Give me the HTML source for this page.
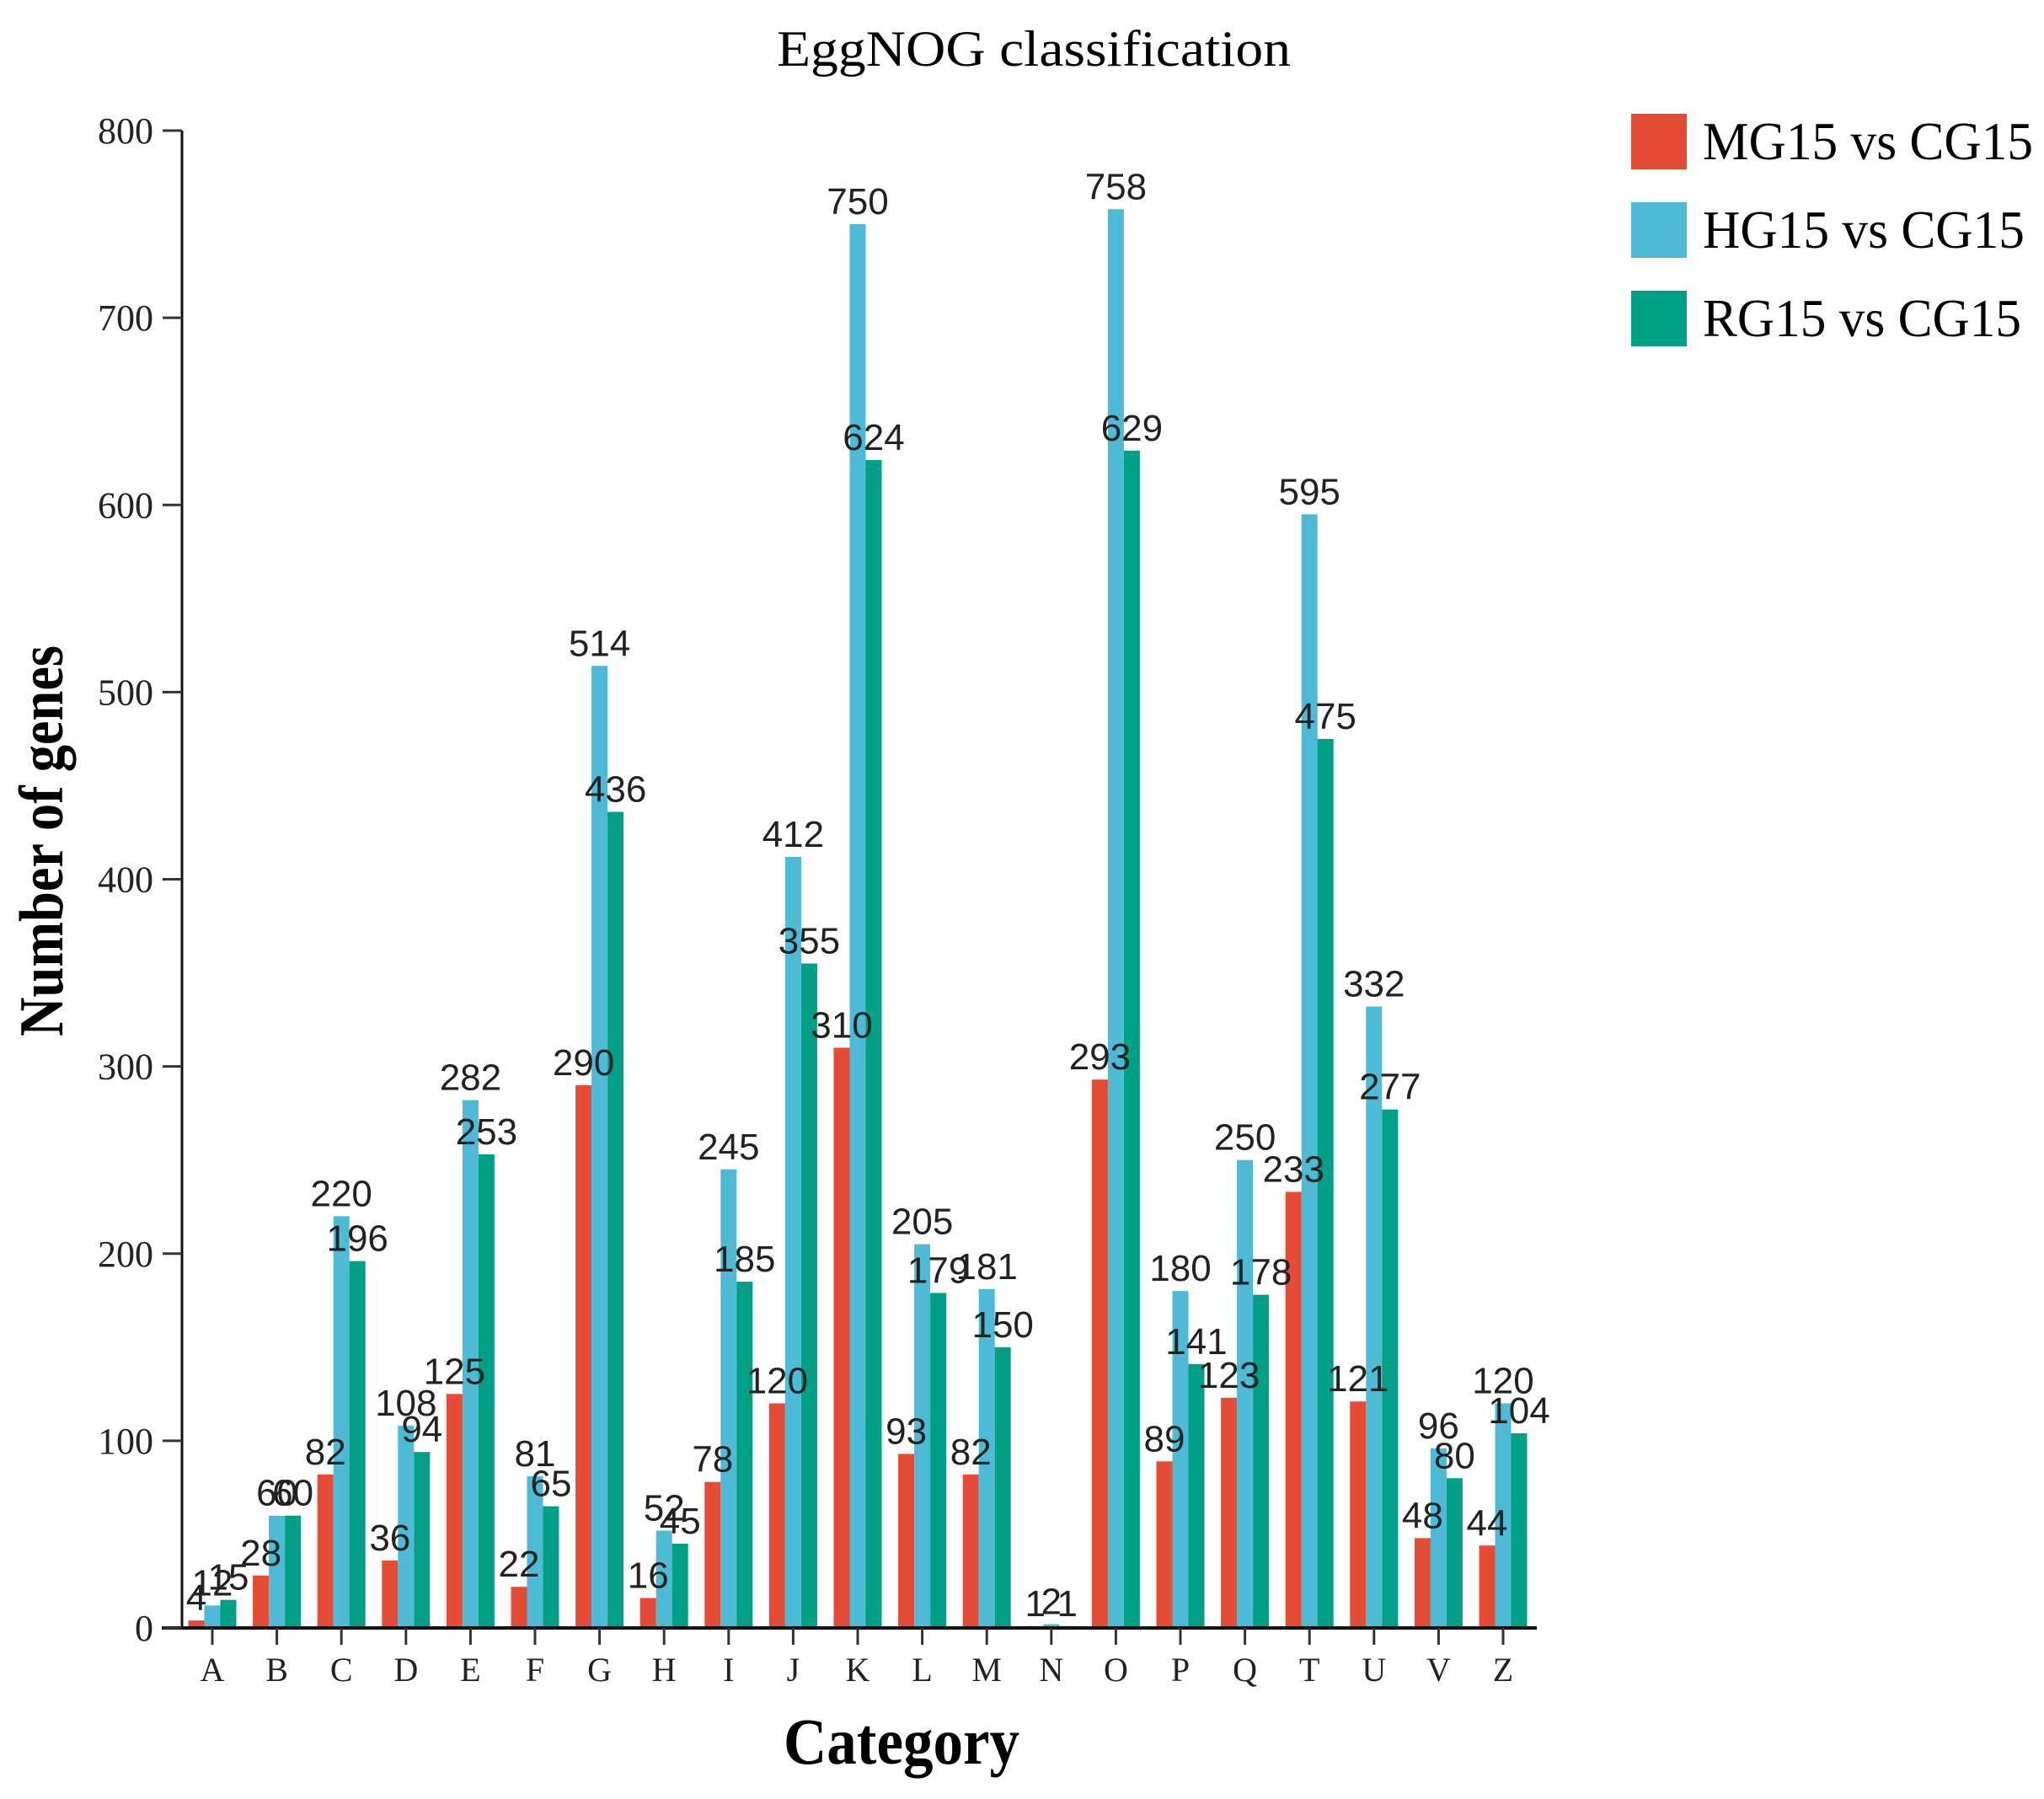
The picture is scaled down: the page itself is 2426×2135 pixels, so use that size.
<!DOCTYPE html>
<html><head><meta charset="utf-8"><style>html,body{margin:0;padding:0;background:#fff}svg{display:block}</style></head>
<body>
<svg id="chart" width="2426" height="2135" viewBox="0 0 2426 2135" xmlns="http://www.w3.org/2000/svg">
<text x="1227" y="78" text-anchor="middle" font-family="Liberation Serif, serif" font-size="60" textLength="610" lengthAdjust="spacingAndGlyphs">EggNOG classification</text>
<text transform="translate(74,998) rotate(-90)" text-anchor="middle" font-family="Liberation Serif, serif" font-weight="bold" font-size="74" textLength="464" lengthAdjust="spacingAndGlyphs">Number of genes</text>
<text x="1070" y="2093" text-anchor="middle" font-family="Liberation Serif, serif" font-weight="bold" font-size="78" textLength="280" lengthAdjust="spacingAndGlyphs">Category</text>
<g id="bars"></g><g id="labels"></g><g id="axes"></g>
<g>
<rect x="1936" y="135" width="66" height="66" fill="#E64B35"/>
<text x="2021" y="189" font-family="Liberation Serif, serif" font-size="64" textLength="392" lengthAdjust="spacingAndGlyphs">MG15 vs CG15</text>
<rect x="1936" y="240" width="66" height="66" fill="#4DBBD5"/>
<text x="2021" y="294" font-family="Liberation Serif, serif" font-size="64" textLength="382" lengthAdjust="spacingAndGlyphs">HG15 vs CG15</text>
<rect x="1936" y="345" width="66" height="66" fill="#00A087"/>
<text x="2021" y="399" font-family="Liberation Serif, serif" font-size="64" textLength="378" lengthAdjust="spacingAndGlyphs">RG15 vs CG15</text>
</g>
</svg>
<script>
const categories = ["A","B","C","D","E","F","G","H","I","J","K","L","M","N","O","P","Q","T","U","V","Z"];
const mgValues = [4,28,82,36,125,22,290,16,78,120,310,93,82,1,293,89,123,233,121,48,44];
const hgValues = [12,60,220,108,282,81,514,52,245,412,750,205,181,2,758,180,250,595,332,96,120];
const rgValues = [15,60,196,94,253,65,436,45,185,355,624,179,150,1,629,141,178,475,277,80,104];
const yTicks = [0,100,200,300,400,500,600,700,800];
const seriesNames = ["mg15","hg15","rg15"];
const seriesColors = ["#E64B35","#4DBBD5","#00A087"];

const NS = "http://www.w3.org/2000/svg";
const y0 = 1932, yTop = 155, yMax = 800;
const xFirst = 252, step = 76.6, barW = 19;
function yScale(v){ return y0 - v/yMax*(y0-yTop); }
function xScale(i){ return xFirst + i*step; }
function mk(tag, attrs, parent){ const e=document.createElementNS(NS,tag); for(const k in attrs) e.setAttribute(k,attrs[k]); parent.appendChild(e); return e; }

const bars = document.getElementById("bars");
const labels = document.getElementById("labels");
const axes = document.getElementById("axes");
const series = [mgValues, hgValues, rgValues];
series.forEach((vals, s) => {
  vals.forEach((v, i) => {
    const cx = xScale(i) + (s-1)*barW;
    const r = mk("rect", {x: cx-barW/2, y: yScale(v), width: barW, height: y0-yScale(v), fill: seriesColors[s]}, bars);
    
    
    const t = mk("text", {x: cx, y: yScale(v)-12, "text-anchor":"middle", "font-family":"Liberation Sans, sans-serif", "font-size":"44", fill:"#222"}, labels);
    t.textContent = v;
    
    
  });
});
const ya = mk("line", {x1:216, y1:yTop, x2:216, y2:y0, stroke:"#111", "stroke-width":3}, axes);


const xa = mk("line", {x1:192, y1:y0, x2:1824, y2:y0, stroke:"#111", "stroke-width":4}, axes);


yTicks.forEach(v => {
  const y = yScale(v);
  const tk = mk("line", {x1:193, y1:y, x2:216, y2:y, stroke:"#333", "stroke-width":3}, axes);
  
  
  const t = mk("text", {x:182, y:y+15, "text-anchor":"end", "font-family":"Liberation Serif, serif", "font-size":"44", fill:"#222"}, axes);
  t.textContent = v;
  
  
});
categories.forEach((c, i) => {
  const x = xScale(i);
  const tk = mk("line", {x1:x, y1:y0, x2:x, y2:y0+20, stroke:"#333", "stroke-width":3}, axes);
  
  
  const t = mk("text", {x:x, y:1995, "text-anchor":"middle", "font-family":"Liberation Serif, serif", "font-size":"40", fill:"#222"}, axes);
  t.textContent = c;
  
  
});
</script>
</body></html>
